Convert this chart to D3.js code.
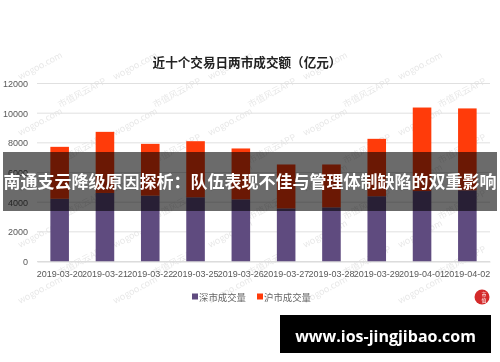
<!DOCTYPE html>
<html>
<head>
<meta charset="utf-8">
<script src="https://cdn.jsdelivr.net/npm/d3@7"></script>
<style>
  body { margin: 0; background: #fff; }
  svg { display: block; font-family: "Noto Sans CJK SC", "Liberation Sans", sans-serif; }
</style>
</head>
<body>
<div id="chart"></div>
<script>
// data (亿元)
var dates = ['2019-03-20','2019-03-21','2019-03-22','2019-03-25','2019-03-26',
             '2019-03-27','2019-03-28','2019-03-29','2019-04-01','2019-04-02'];
var szVol = [4230, 4620, 4440, 4330, 4190, 3580, 3650, 4400, 4750, 4800];
var shVol = [3500, 4120, 3490, 3780, 3430, 2960, 2890, 3870, 5630, 5520];
var yTicks = [0, 2000, 4000, 6000, 8000, 10000, 12000];
var seriesNames = ['深市成交量', '沪市成交量'];
var colors = ['#5f4b7f', '#ff3b0a'];

var width = 500, height = 362;
var margin = {top: 83.5, right: 10, bottom: 100.5, left: 37};

var svg = d3.select('#chart').append('svg')
    .attr('width', width)
    .attr('height', height);

// watermark text, tiled diagonally (kept inside the picture)
var wm = svg.append('g').attr('fill', '#b0b0b0').attr('opacity', 0.3)
    .style('font-size', '9px');
for (var r = 0; r < 9; r++) {
    for (var c = 0; c < 5; c++) {
        var wx = 20 + c * 95 + (r % 2) * 40, wy = 80 + r * 28;
        if (wx > 440) continue;
        wm.append('text')
            .attr('transform', 'translate(' + wx + ',' + wy + ') rotate(-28)')
            .text(r % 2 ? '市值风云APP' : 'wogoo.com');
    }
}

// title
svg.append('text')
    .attr('x', 247).attr('y', 67)
    .attr('text-anchor', 'middle')
    .style('font-size', '12.6px').style('font-weight', 'bold')
    .attr('fill', '#222')
    .text('近十个交易日两市成交额（亿元）');

var x = d3.scaleBand()
    .domain(dates)
    .range([margin.left, width - margin.right])
    .paddingInner(0.59)
    .paddingOuter(0.295);

var y = d3.scaleLinear()
    .domain([0, 12000])
    .range([height - margin.bottom, margin.top]);

// grid lines
svg.append('g').selectAll('line')
    .data(yTicks)
    .enter().append('line')
        .attr('x1', margin.left).attr('x2', width - margin.right)
        .attr('y1', function(d){ return y(d); })
        .attr('y2', function(d){ return y(d); })
        .attr('stroke', '#e0e0e0');

// y axis labels
var yAxis = d3.axisLeft(y).tickValues(yTicks).tickFormat(d3.format('d'))
    .tickSize(0).tickPadding(9);
var yg = svg.append('g')
    .attr('transform', 'translate(' + margin.left + ',0)')
    .call(yAxis);
yg.select('.domain').remove();
yg.selectAll('text')
    .style('font-family', '"Liberation Sans", sans-serif')
    .style('font-size', '9px').attr('fill', '#595959');

// stacked bars
var table = dates.map(function(d, i){
    return {date: d, sz: szVol[i], sh: shVol[i]};
});
var stack = d3.stack().keys(['sz', 'sh'])(table);

svg.append('g').selectAll('g')
    .data(stack)
    .enter().append('g')
        .attr('fill', function(d, i){ return colors[i]; })
    .selectAll('rect')
    .data(function(d){ return d; })
    .enter().append('rect')
        .attr('x', function(d){ return x(d.data.date); })
        .attr('y', function(d){ return y(d[1]); })
        .attr('width', x.bandwidth())
        .attr('height', function(d){ return y(d[0]) - y(d[1]); });

// x axis labels
var xAxis = d3.axisBottom(x).tickSize(0).tickPadding(9);
var xg = svg.append('g')
    .attr('transform', 'translate(0,' + y(0) + ')')
    .call(xAxis);
xg.select('.domain').attr('stroke', '#d9d9d9');
xg.selectAll('text')
    .style('font-family', '"Liberation Sans", sans-serif')
    .style('font-size', '9px').attr('fill', '#595959');

// legend
var legX = [192, 257];
var leg = svg.append('g').selectAll('g')
    .data(seriesNames)
    .enter().append('g')
        .attr('transform', function(d, i){ return 'translate(' + legX[i] + ',297)'; });
leg.append('rect')
    .attr('x', 0).attr('y', -3.5)
    .attr('width', 6).attr('height', 6)
    .attr('fill', function(d, i){ return colors[i]; });
leg.append('text')
    .attr('x', 7).attr('y', 3.5)
    .style('font-size', '9.4px').attr('fill', '#666')
    .text(function(d){ return d; });

// small logo
svg.append('circle').attr('cx', 482).attr('cy', 297).attr('r', 7.5).attr('fill', '#d42a2a');
svg.append('text').attr('x', 484).attr('y', 296).attr('text-anchor', 'middle')
    .style('font-size', '5px').attr('fill', '#fff').text('市');
svg.append('text').attr('x', 484).attr('y', 302).attr('text-anchor', 'middle')
    .style('font-size', '5px').attr('fill', '#fff').text('值');

// headline overlay band
svg.append('rect')
    .attr('x', 3).attr('y', 152)
    .attr('width', 494).attr('height', 59)
    .attr('fill', 'rgba(0,0,0,0.58)');
svg.append('text')
    .attr('x', 250).attr('y', 187.5)
    .attr('text-anchor', 'middle')
    .style('font-size', '17px').style('font-weight', 'bold')
    .attr('fill', '#fff')
    .text('南通支云降级原因探析：队伍表现不佳与管理体制缺陷的双重影响');

// site box
svg.append('rect')
    .attr('x', 280).attr('y', 315)
    .attr('width', 211).attr('height', 38)
    .attr('fill', '#000');
svg.append('text')
    .attr('x', 385.5).attr('y', 342)
    .attr('text-anchor', 'middle')
    .style('font-family', '"Open Sans", "DejaVu Sans", sans-serif')
    .style('font-size', '16px').style('font-weight', 'bold')
    .attr('fill', '#fff')
    .text('www.ios-jingjibao.com');
</script>
</body>
</html>
